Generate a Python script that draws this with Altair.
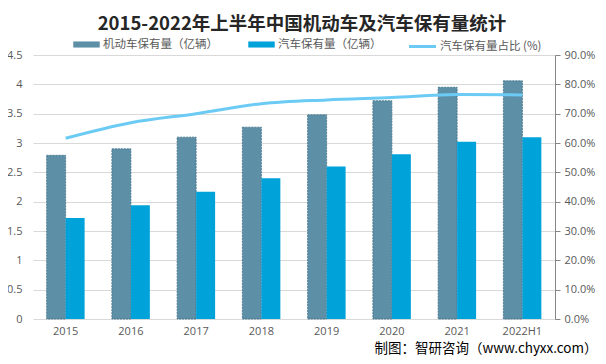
import altair as alt
import pandas as pd

years = ["2015", "2016", "2017", "2018", "2019", "2020", "2021", "2022H1"]
motor = [2.79, 2.90, 3.10, 3.27, 3.48, 3.72, 3.95, 4.06]
cars = [1.72, 1.94, 2.17, 2.40, 2.60, 2.81, 3.02, 3.10]
share = [0.616, 0.669, 0.700, 0.734, 0.747, 0.755, 0.765, 0.764]
series_names = ["机动车保有量（亿辆）", "汽车保有量（亿辆）"]
line_name = "汽车保有量占比 (%)"
left_ticks = [0, 0.5, 1, 1.5, 2, 2.5, 3, 3.5, 4, 4.5]
right_ticks = [0, 0.1, 0.2, 0.3, 0.4, 0.5, 0.6, 0.7, 0.8, 0.9]

DARK = "#5d8fa6"
LIGHT = "#00a2da"
LINE = "#6ccbf4"
TXT = "#595959"
CJK = "Noto Sans CJK SC"
NUM = "Open Sans"

bar_rows = []
for y, a, b in zip(years, motor, cars):
    bar_rows.append({"year": y, "series": series_names[0], "value": a})
    bar_rows.append({"year": y, "series": series_names[1], "value": b})
bar_df = pd.DataFrame(bar_rows)
line_df = pd.DataFrame({"year": years, "share": share, "name": [line_name] * len(years)})

x_enc = alt.X(
    "year:N",
    sort=years,
    scale=alt.Scale(paddingInner=0.418, paddingOuter=0.209),
    axis=alt.Axis(
        title="制图：智研咨询（www.chyxx.com）",
        titleFont=CJK,
        titleFontSize=13.5,
        titleFontWeight="normal",
        titleColor="#000000",
        titleAnchor="end",
        titleAlign="right",
        titleBaseline="middle",
        titleX=564,
        titleY=29,
        labelFont=NUM,
        labelFontSize=11,
        labelColor=TXT,
        labelAngle=0,
        labelPadding=6,
        ticks=False,
        tickSize=0,
        domain=False,
        grid=False,
    ),
)

bars = alt.Chart(bar_df).mark_bar(strokeDash=[2, 1], strokeWidth=0.8).encode(
    x=x_enc,
    xOffset=alt.XOffset("series:N", sort=series_names),
    y=alt.Y(
        "value:Q",
        scale=alt.Scale(domain=[0, 4.5], nice=False),
        axis=alt.Axis(
            title=None,
            values=left_ticks,
            format="~g",
            labelFont=NUM,
            labelFontSize=11,
            labelColor=TXT,
            labelPadding=11,
            ticks=False,
            tickSize=0,
            domain=False,
            grid=True,
            gridColor="#d9d9d9",
            gridWidth=1,
        ),
    ),
    color=alt.Color(
        "series:N",
        sort=series_names,
        scale=alt.Scale(domain=series_names, range=[DARK, LIGHT]),
        legend=alt.Legend(
            title=None,
            orient="none",
            legendX=40,
            legendY=-24,
            direction="horizontal",
            symbolType="M-1,-0.23L1,-0.23L1,0.23L-1,0.23Z",
            symbolSize=700,
            symbolStrokeWidth=0,
            labelFont=CJK,
            labelFontSize=11.5,
            labelColor=TXT,
            labelOffset=3,
            columnPadding=30,
        ),
    ),
    stroke=alt.condition(
        alt.datum.series == series_names[0], alt.value("#3f6f87"), alt.value("transparent")
    ),
)

line = alt.Chart(line_df).mark_line(strokeWidth=3, interpolate="monotone").encode(
    x=alt.X("year:N", sort=years),
    y=alt.Y(
        "share:Q",
        scale=alt.Scale(domain=[0, 0.9], nice=False),
        axis=alt.Axis(
            title=None,
            orient="right",
            values=right_ticks,
            format=".1%",
            labelFont=NUM,
            labelFontSize=11,
            labelColor=TXT,
            labelPadding=4,
            ticks=True,
            tickSize=5,
            tickColor="#868686",
            domain=True,
            domainColor="#868686",
            grid=False,
        ),
    ),
    stroke=alt.Stroke(
        "name:N",
        scale=alt.Scale(domain=[line_name], range=[LINE]),
        legend=alt.Legend(
            title=None,
            orient="none",
            legendX=374,
            legendY=-24,
            symbolType="stroke",
            symbolSize=730,
            symbolStrokeWidth=3,
            labelFont=CJK,
            labelFontSize=11.5,
            labelColor=TXT,
            labelOffset=2,
        ),
    ),
)

chart = (
    alt.layer(bars, line)
    .resolve_scale(y="independent")
    .properties(
        width=522,
        height=264,
        autosize=alt.AutoSizeParams(type="none"),
        padding={"left": 25, "top": 47, "right": 43, "bottom": 40},
        title=alt.Title(
            "2015-2022年上半年中国机动车及汽车保有量统计",
            font=CJK,
            fontSize=18.5,
            fontWeight="bold",
            color="#262626",
            anchor="middle",
            frame="group",
            dx=8,
            dy=6,
        ),
    )
    .configure_view(stroke=None)
)

chart.save("out.html", embed_options={"renderer": "svg", "actions": False})
